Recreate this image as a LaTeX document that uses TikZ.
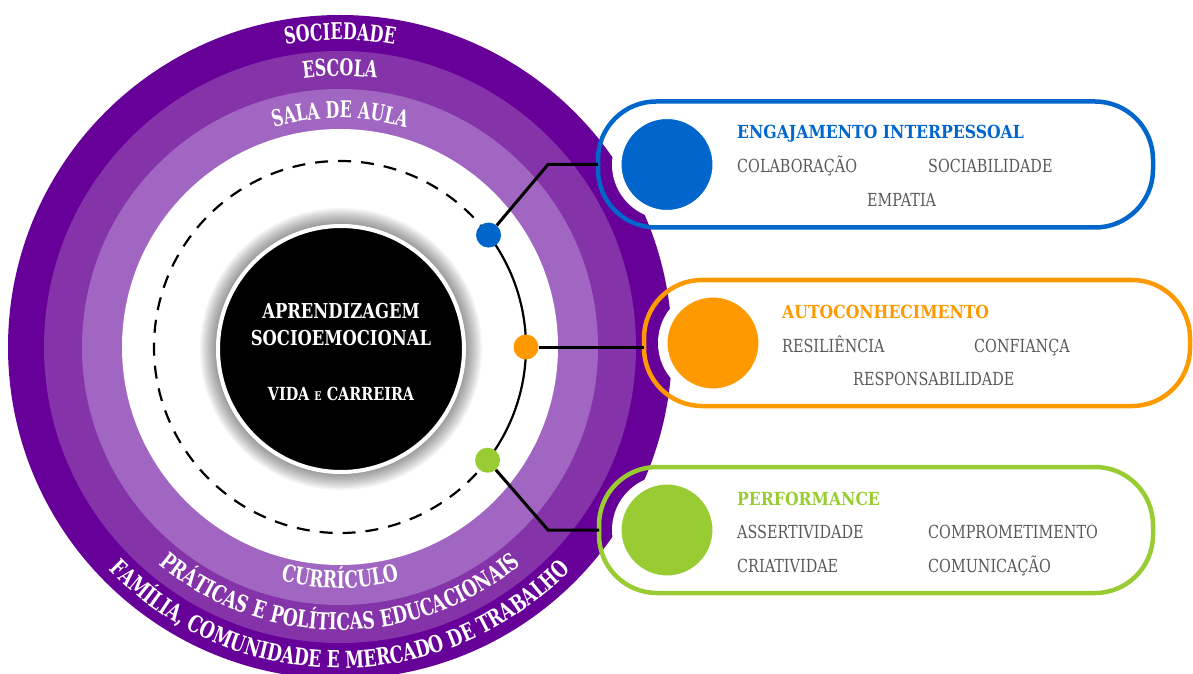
\documentclass[tikz,border=0pt]{standalone}
\usepackage{fontspec}
\setmainfont{DejaVu Serif}
\newfontfamily\vongfont[FakeStretch=0.69]{DejaVu Serif}
\newfontfamily\vongduoifont[FakeStretch=0.725]{DejaVu Serif}
\newfontfamily\giuafont[FakeStretch=0.8]{DejaVu Serif}
\newfontfamily\tieudefont[FakeStretch=0.87]{DejaVu Serif}
\newfontfamily\mucfont[FakeStretch=0.8]{DejaVu Serif}
\usetikzlibrary{decorations.text}

\definecolor{tim1}{HTML}{660099}
\definecolor{tim2}{HTML}{8533A8}
\definecolor{tim3}{HTML}{A066C2}
\definecolor{xanh}{HTML}{0066CC}
\definecolor{cam}{HTML}{FF9900}
\definecolor{la}{HTML}{99CC33}
\definecolor{xam}{HTML}{595959}

\newcommand\chuvong{\vongfont\bfseries\fontsize{23}{23}\selectfont}
\newcommand\chuduoi{\vongduoifont\bfseries\fontsize{23.5}{23.5}\selectfont}
\newcommand\chugiua{\giuafont\bfseries\fontsize{20.5}{20.5}\selectfont}

\begin{document}
\begin{tikzpicture}[x=1pt,y=1pt,declare function={r1=332;r2=296;r3=258;r4=218;rd=186;}]
	\tikzset{vong/.style={decorate,decoration={text along path,text align=center,text color=white,text={#1}}},
		khung/.style={draw=#1,line width=4.5pt,rounded corners=58pt,minimum height=126pt,outer sep=0pt,inner sep=0pt},
		cham/.style={circle,fill=#1,minimum size=25pt,inner sep=0pt},
		tron/.style={circle,fill=#1,draw=white,line width=9.5pt,minimum size=100.5pt,inner sep=0pt},
		tieude/.style={anchor=base west,inner sep=0pt,font=\tieudefont\bfseries\fontsize{18}{18}\selectfont},
		muc/.style={anchor=base west,inner sep=0pt,text=xam,font=\mucfont\fontsize{18}{18}\selectfont},
		giua/.style={anchor=base,inner sep=0pt,text=white,font=\chugiua},
		noi/.style={line width=3pt}}
	\useasboundingbox (0,0) rectangle (1193,673);
	\coordinate (C) at (340,326);
	
	% Các vòng tròn nền
	\fill[tim1] (C) circle[radius=r1];
	\fill[tim2] (C) circle[radius=r2];
	\fill[tim3] (C) circle[radius=r3];
	\fill[white] (C) circle[radius=r4];
	
	% Chữ trên các vòng (phía trên)
	\path[vong={|\chuvong|SOCIEDADE}] ([shift={(160:307)}]C) arc[start angle=160,end angle=20,radius=307];
	\path[vong={|\chuvong|ESCOLA}] ([shift={(160:271)}]C) arc[start angle=160,end angle=20,radius=271];
	\path[vong={|\chuvong|SALA DE AULA}] ([shift={(160:229)}]C) arc[start angle=160,end angle=20,radius=229];
	
	% Chữ trên các vòng (phía dưới)
	\path[vong={|\chuduoi|CURRÍCULO}] ([shift={(200:241)}]C) arc[start angle=200,end angle=340,radius=241];
	\path[vong={|\chuduoi|PRÁTICAS E POLÍTICAS EDUCACIONAIS}] ([shift={(200:283)}]C) arc[start angle=200,end angle=340,radius=283];
	\path[vong={|\chuduoi|FAMÍLIA, COMUNIDADE E MERCADO DE TRABALHO}] ([shift={(200:321)}]C) arc[start angle=200,end angle=340,radius=321];
	
	% Bóng mờ và hình tròn đen ở giữa
	\foreach \k in {1,...,10}
		\fill[black,opacity=0.045] (341,324) circle[radius=125+1.6*\k];
	\node[circle,fill=black,draw=white,line width=4pt,minimum size=246pt,inner sep=0pt] (O) at (341,324) {};
	\path (O) ++(0,31) node[giua] (O1) {APRENDIZAGEM}
		(O) ++(0,4) node[giua] (O2) {SOCIOEMOCIONAL}
		(O) ++(0,-51) node[giua,font=\giuafont\bfseries\fontsize{18}{18}\selectfont] (O3) {VIDA {\fontsize{12}{12}\selectfont E} CARREIRA};
	
	% Đường tròn nét đứt và cung liền
	\draw[line width=2.2pt,dash pattern=on 13pt off 10pt] ([shift={(37:rd)}]C) arc[start angle=37,end angle=322.5,radius=rd];
	\draw[line width=2.2pt] ([shift={(-37.5:rd)}]C) arc[start angle=-37.5,end angle=37,radius=rd];
	
	% Ba khung
	\path (875.5,508.5) node[khung=xanh,minimum width=555pt] (E) {}
		(917,330) node[khung=cam,minimum width=546pt] (Au) {}
		(876,143) node[khung=la,minimum width=554pt] (P) {};
	
	% Các chấm trên cung
	\path (C) ++(37:rd) node[cham=xanh] (dE) {}
		(C) ++(0:rd) node[cham=cam] (dAu) {}
		(C) ++(-37.5:rd) node[cham=la] (dP) {};
	
	% Đường nối
	\draw[noi] (dE) -- ([xshift=-50pt]E.west) -- (E.west);
	\draw[noi] (dAu) -- (dAu -| Au.west);
	\draw[noi] (dP) -- ([xshift=-51pt]P.west) -- (P.west);
	
	% Hình tròn màu trong khung
	\path ([xshift=69pt]E.west) node[tron=xanh] (cE) {}
		([xshift=69pt]Au.west) node[tron=cam] (cAu) {}
		([xshift=68pt]P.west) node[tron=la] (cP) {};
	
	% Nội dung khung ENGAJAMENTO INTERPESSOAL
	\path ([xshift=139pt,yshift=26pt]E.west) node[tieude,text=xanh] (E0) {ENGAJAMENTO INTERPESSOAL}
		([xshift=139pt,yshift=-8.5pt]E.west) node[muc] (E1) {COLABORAÇÃO}
		([xshift=330pt,yshift=-8.5pt]E.west) node[muc] (E2) {SOCIABILIDADE}
		([xshift=269pt,yshift=-42pt]E.west) node[muc] (E3) {EMPATIA};
	
	% Nội dung khung AUTOCONHECIMENTO
	\path ([xshift=138pt,yshift=25pt]Au.west) node[tieude,text=cam] (Au0) {AUTOCONHECIMENTO}
		([xshift=138pt,yshift=-9pt]Au.west) node[muc] (Au1) {RESILIÊNCIA}
		([xshift=330pt,yshift=-9pt]Au.west) node[muc] (Au2) {CONFIANÇA}
		([xshift=209pt,yshift=-42pt]Au.west) node[muc] (Au3) {RESPONSABILIDADE};
	
	% Nội dung khung PERFORMANCE
	\path ([xshift=138pt,yshift=25pt]P.west) node[tieude,text=la] (P0) {PERFORMANCE}
		([xshift=138pt,yshift=-8pt]P.west) node[muc] (P1) {ASSERTIVIDADE}
		([xshift=329pt,yshift=-8pt]P.west) node[muc] (P2) {COMPROMETIMENTO}
		([xshift=138pt,yshift=-42pt]P.west) node[muc] (P3) {CRIATIVIDAE}
		([xshift=329pt,yshift=-42pt]P.west) node[muc] (P4) {COMUNICAÇÃO};
\end{tikzpicture}
\end{document}
